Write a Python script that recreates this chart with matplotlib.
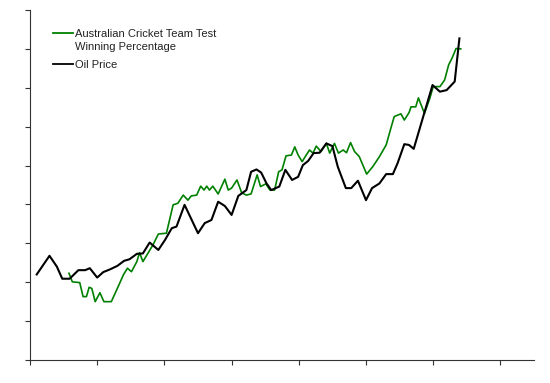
import numpy as np
import matplotlib
matplotlib.use("Agg")
import matplotlib.pyplot as plt

# values (x in arbitrary periods, y in arbitrary units)
oil_x = [1.0, 2.9, 4.0, 4.8, 5.9, 7.2, 8.2, 8.9, 10.0, 10.9, 11.9, 13.0, 14.0,
         14.8, 15.9, 16.8, 17.8, 19.1, 20.1, 21.1, 21.8, 23.0, 25.0, 26.0,
         27.0, 28.0, 29.0, 30.0, 31.0, 32.2, 32.9, 33.7, 34.4, 35.2, 35.9,
         37.1, 38.0, 39.0, 39.9, 40.6, 41.4, 42.2, 43.1, 44.1, 45.0, 45.8,
         47.0, 47.8, 48.8, 50.0, 50.9, 52.0, 53.0, 54.0, 54.7, 55.7, 56.4,
         57.1, 59.9, 61.0, 62.0, 63.2, 63.9]
oil_y = [22.0, 26.8, 24.0, 20.9, 20.9, 23.1, 23.1, 23.6, 21.2, 22.6, 23.3, 24.2,
         25.5, 25.9, 27.3, 27.4, 30.2, 28.3, 30.9, 33.9, 34.3, 39.9, 32.6,
         35.2, 36.0, 40.7, 39.6, 37.3, 42.2, 43.7, 48.4, 49.0, 48.2, 45.4,
         43.7, 44.6, 48.9, 46.3, 47.1, 50.1, 51.2, 53.2, 53.3, 55.7, 55.0,
         49.7, 44.2, 44.2, 46.1, 41.1, 44.2, 45.4, 47.8, 47.8, 50.6, 55.5,
         55.3, 54.3, 70.7, 69.0, 69.4, 71.6, 82.7]

cricket_x = [5.8, 6.3, 7.4, 7.9, 8.4, 8.8, 9.2, 9.7, 10.4, 11.0, 12.1, 13.1,
             13.9, 14.5, 15.1, 15.9, 16.3, 16.8, 17.6, 18.3, 19.1, 20.3, 21.3,
             22.0, 22.8, 23.5, 24.0, 24.8, 25.4, 25.9, 26.3, 26.7, 27.2, 28.0,
             29.0, 29.5, 30.0, 30.8, 31.5, 32.2, 32.9, 33.8, 34.3, 35.1, 35.7,
             36.4, 37.0, 37.5, 38.1, 38.9, 39.4, 39.9, 40.5, 41.1, 41.6, 42.1,
             42.6, 43.3, 44.1, 44.6, 45.3, 45.9, 46.6, 47.1, 47.7, 48.3, 49.0,
             50.1, 51.0, 52.0, 53.0, 53.7, 54.2, 55.2, 55.7, 56.4, 56.7, 57.4,
             57.8, 58.7, 59.5, 60.0, 61.0, 61.7, 62.3, 62.8, 63.4, 64.1]
cricket_y = [22.3, 20.1, 19.9, 16.3, 16.3, 18.7, 18.4, 15.0, 17.3, 15.0, 15.0,
             18.8, 21.9, 23.6, 22.7, 25.3, 27.6, 25.3, 27.6, 29.6, 32.4, 32.6,
             39.9, 40.3, 42.4, 41.1, 42.2, 42.4, 44.7, 43.7, 44.7, 43.7, 44.7,
             42.7, 46.5, 43.7, 44.2, 46.3, 43.0, 42.4, 42.7, 47.6, 44.6, 45.3,
             43.7, 43.7, 48.4, 48.9, 52.5, 52.7, 54.8, 52.7, 51.0, 52.7, 54.0,
             53.2, 55.0, 53.6, 55.7, 53.2, 55.7, 53.2, 54.0, 53.3, 55.9, 53.6,
             52.3, 47.8, 49.7, 52.3, 55.3, 59.6, 62.6, 63.3, 61.7, 63.6, 65.1,
             65.1, 67.4, 63.4, 67.3, 70.3, 70.3, 72.0, 75.9, 77.6, 80.1, 80.0]

series_labels = ['Australian Cricket Team Test\nWinning Percentage', 'Oil Price']
series_colors = ['#008000', 'black']

x_ticks = np.arange(0, 80, 10)
y_ticks = np.arange(0, 100, 10)

fig = plt.figure(figsize=(5.5, 3.83), dpi=100)
ax = fig.add_axes([30 / 550, 23 / 383, 504 / 550, 350 / 383])

ax.plot(cricket_x, cricket_y, color=series_colors[0], lw=1.2)
ax.plot(oil_x, oil_y, color=series_colors[1], lw=1.5)

ax.set_xlim(0, 75)
ax.set_ylim(0, 90)
ax.set_xticks(x_ticks)
ax.set_yticks(y_ticks)
ax.set_xticklabels([])
ax.set_yticklabels([])
ax.tick_params(direction='out', length=3.5, width=0.8, color='#333333')
for side in ['top', 'right']:
    ax.spines[side].set_visible(False)
for side in ['left', 'bottom']:
    ax.spines[side].set_linewidth(0.8)
    ax.spines[side].set_color('#333333')

# legend drawn by hand so the handle sits on the first line of a 2-line label
leg_y = [0.934, 0.846]
line_gap = 0.037
for lab, col, yy in zip(series_labels, series_colors, leg_y):
    ax.plot([0.0456, 0.0853], [yy, yy], color=col, lw=1.3,
            transform=ax.transAxes, clip_on=False)
    for k, part in enumerate(lab.split('\n')):
        ax.text(0.0893, yy - k * line_gap, part, transform=ax.transAxes,
                ha='left', va='center_baseline', fontsize=8,
                family='Liberation Sans', color='#222222')

fig.savefig('out.png', dpi=100)
